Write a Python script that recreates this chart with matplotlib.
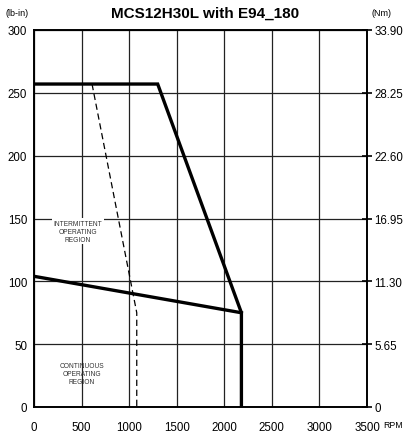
import matplotlib
matplotlib.use("Agg")
import matplotlib.pyplot as plt

plt.rcParams['font.family'] = ['Liberation Sans', 'DejaVu Sans']

# Data (RPM, lb-in)
peak_rpm = [0, 1300, 2180, 2180]
peak_torque = [257, 257, 75, 0]
cont_rpm = [0, 2180]
cont_torque = [104, 75]
dash_rpm = [610, 1080, 1080]
dash_torque = [257, 75, 0]

x_ticks = [0, 500, 1000, 1500, 2000, 2500, 3000, 3500]
y_ticks = [0, 50, 100, 150, 200, 250, 300]
nm_labels = ["0", "5.65", "11.30", "16.95", "22.60", "28.25", "33.90"]

title = "MCS12H30L with E94_180"

fig = plt.figure(figsize=(4.07, 4.35), dpi=100)
ax = fig.add_axes([34/407, (435-408)/435, (367-34)/407, (408-31)/435])
ax.set_xlim(0, 3500)
ax.set_ylim(0, 300)

for xv in x_ticks:
    ax.axvline(xv, color='#222222', lw=0.9, zorder=1)
for yv in y_ticks:
    ax.axhline(yv, color='#222222', lw=0.9, zorder=1)

ax.plot(peak_rpm, peak_torque, color='black', lw=2.4, solid_joinstyle='miter', zorder=3)
ax.plot(cont_rpm, cont_torque, color='black', lw=2.4, zorder=3)
ax.plot(dash_rpm, dash_torque, color='black', lw=0.9, ls=(0, (5, 3)), zorder=3)

ax.set_xticks(x_ticks)
ax.set_xticklabels([str(v) for v in x_ticks], fontsize=8.3)
ax.set_yticks(y_ticks)
ax.set_yticklabels([str(v) for v in y_ticks], fontsize=8.3)
ax.tick_params(axis='x', length=0, pad=10)
ax.tick_params(axis='y', length=0, pad=5)

ax2 = ax.twinx()
ax2.set_ylim(0, 300)
ax2.set_yticks(y_ticks)
ax2.set_yticklabels(nm_labels, fontsize=8.3)
ax2.tick_params(axis='y', direction='inout', length=7, width=1.2, pad=2)

for a in (ax, ax2):
    for s in a.spines.values():
        s.set_linewidth(1.2)
        s.set_color('black')

ax.text(460, 140, "INTERMITTENT\nOPERATING\nREGION", fontsize=4.8, ha='center', va='center',
        color='#333333', linespacing=1.2, zorder=4,
        bbox=dict(facecolor='white', edgecolor='none', pad=1))
ax.text(500, 27, "CONTINUOUS\nOPERATING\nREGION", fontsize=4.8, ha='center', va='center',
        color='#333333', linespacing=1.2, zorder=4)

fig.text(205/407, 1 - 14/435, title, fontsize=11, fontweight='bold', ha='center', va='center')
fig.text(5/407, 1 - 14/435, "(lb-in)", fontsize=6.5, ha='left', va='center')
fig.text(372/407, 1 - 14/435, "(Nm)", fontsize=6.5, ha='left', va='center')
fig.text(383/407, 1 - 426/435, "RPM", fontsize=6.3, ha='left', va='center')

fig.savefig("out.png", dpi=100)
